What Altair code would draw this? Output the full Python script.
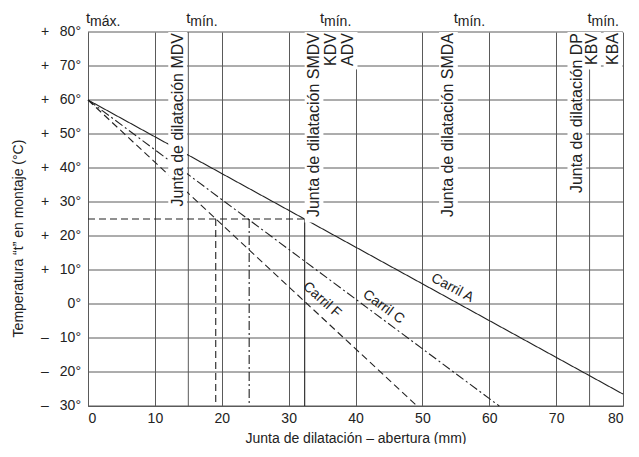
import altair as alt
import pandas as pd

FONT = "Liberation Sans"
INK = "#222222"
GRID = "#5a5a5a"

# ---- data ----
rail_names = ["Carril A", "Carril C", "Carril F"]
rail_x_start = [0, 0, 0]
rail_t_start = [60, 60, 60]
rail_x_end = [80, 61.5, 49.2]
rail_t_end = [-26.5, -30, -30]
rail_style = ["solid", "dashdot", "dashed"]

rail_label_x = [54.5, 44.2, 35.0]
rail_label_t = [4.7, -0.9, 1.2]
rail_label_angle = [28, 36, 42]

# reading example at t = +25 degC
ref_x = [0, 19.1, 24.1, 32.4]
ref_x2 = [32.4, 19.1, 24.1, 32.4]
ref_t = [25, 25, 25, 25]
ref_t2 = [25, -30, -30, -30]
ref_style = ["dashed", "dashed", "dashdot", "solid"]

# extra joint lines
joint_line_x = [15, 75]

# joint type labels (vertical)
joint_text = ["Junta de dilatación MDV", "Junta de dilatación SMDV", "KDV", "ADV",
              "Junta de dilatación SMDA", "Junta de dilatación DP", "KBV", "KBA"]
joint_x = [13.4, 33.8, 36.3, 38.9, 53.9, 73.1, 75.3, 78.5]
joint_bottom = [27, 24, 69, 69, 23, 31, 69, 69]

# top labels
top_x = [0, 15, 35, 55, 75]
top_sub = ["máx.", "mín.", "mín.", "mín.", "mín."]

x_ticks = [0, 10, 20, 30, 40, 50, 60, 70, 80]
t_ticks = [-30, -20, -10, 0, 10, 20, 30, 40, 50, 60, 70, 80]
t_signs = ["–", "–", "–", "", "+", "+", "+", "+", "+", "+", "+", "+"]
t_numbers = ["30°", "20°", "10°", "0°", "10°", "20°", "30°", "40°", "50°", "60°", "70°", "80°"]

# ---- tables ----
rails = pd.DataFrame({"name": rail_names, "x": rail_x_start, "t": rail_t_start,
                      "x2": rail_x_end, "t2": rail_t_end, "style": rail_style})
rail_labels = pd.DataFrame({"name": rail_names, "x": rail_label_x, "t": rail_label_t,
                            "angle": rail_label_angle})
refs = pd.DataFrame({"x": ref_x, "x2": ref_x2, "t": ref_t, "t2": ref_t2, "style": ref_style})
jlines = pd.DataFrame({"x": joint_line_x})
jtext = pd.DataFrame({"text": joint_text, "x": joint_x, "bottom": joint_bottom})
jtext["xl"] = jtext["x"] - 1.4
jtext["xr"] = jtext["x"] + 1.4
jtext["top"] = 80
tops = pd.DataFrame({"x": top_x, "sub": top_sub})
hgrid = pd.DataFrame({"t": t_ticks, "sign": t_signs, "num": t_numbers})

xs = alt.Scale(domain=[0, 80], nice=False, zero=False)
ys = alt.Scale(domain=[-30, 80], nice=False, zero=False)

dash_scale = alt.Scale(domain=["solid", "dashdot", "dashed"],
                       range=[[1, 0], [9, 3, 2, 3], [7, 4]])

base = alt.Chart(hgrid).mark_rule(color=GRID, strokeWidth=1).encode(
    x=alt.X("xa:Q", scale=xs,
            axis=alt.Axis(values=x_ticks, title="Junta de dilatación – abertura (mm)",
                          grid=True, ticks=False, domain=True, labelPadding=5,
                          labelOverlap=False, titlePadding=6)),
    x2=alt.datum(80),
    y=alt.Y("t:Q", scale=ys,
            axis=alt.Axis(values=t_ticks, title="Temperatura “t” en montaje (°C)",
                          grid=False, ticks=False, domain=True, labels=False,
                          titleX=-63, titleY=206, titleBaseline="bottom",
                          titleAngle=270, titleAlign="center")),
).transform_calculate(xa="0")

ynum = alt.Chart(hgrid).mark_text(
    align="right", baseline="middle", font=FONT, fontSize=14, color=INK).encode(
    x=alt.value(-7), y="t:Q", text="num:N")
ysign = alt.Chart(hgrid).mark_text(
    align="center", baseline="middle", font=FONT, fontSize=14, color=INK).encode(
    x=alt.value(-43), y="t:Q", text="sign:N")

joint_rules = alt.Chart(jlines).mark_rule(color=GRID, strokeWidth=1).encode(
    x="x:Q", y=alt.datum(80), y2=alt.datum(-30))

masks = alt.Chart(jtext).mark_rect(color="white").encode(
    x="xl:Q", x2="xr:Q", y="top:Q", y2="bottom:Q")

rail_rules = alt.Chart(rails).mark_rule(color=INK, strokeWidth=1.1).encode(
    x="x:Q", x2="x2:Q", y="t:Q", y2="t2:Q",
    strokeDash=alt.StrokeDash("style:N", scale=dash_scale, legend=None))

ref_rules = alt.Chart(refs).mark_rule(color=INK, strokeWidth=1.1).encode(
    x="x:Q", x2="x2:Q", y="t:Q", y2="t2:Q",
    strokeDash=alt.StrokeDash("style:N", scale=dash_scale, legend=None))

jlabels = alt.Chart(jtext).mark_text(
    angle=270, align="right", baseline="middle", font=FONT, fontSize=16,
    color=INK, dx=-1).encode(x="x:Q", y="top:Q", text="text:N")

rlabels = alt.Chart(rail_labels).mark_text(
    align="center", baseline="middle", font=FONT, fontSize=14, color=INK).encode(
    x="x:Q", y="t:Q", text="name:N", angle=alt.Angle("angle:Q", scale=None))

t_marks = alt.Chart(tops).mark_text(
    align="left", baseline="alphabetic", font=FONT, fontSize=15, color=INK, dx=-2).encode(
    x="x:Q", y=alt.datum(82.65), text=alt.value("t"))
sub_marks = alt.Chart(tops).mark_text(
    align="left", baseline="alphabetic", font=FONT, fontSize=14, color=INK, dx=2).encode(
    x="x:Q", y=alt.datum(81.8), text="sub:N")

chart = alt.layer(base, joint_rules, rail_rules, ref_rules, masks, jlabels, rlabels,
                  t_marks, sub_marks, ynum, ysign).properties(
    width=535, height=374,
    autosize=alt.AutoSizeParams(type="none"),
    padding={"left": 80, "top": 24, "right": 8, "bottom": 38},
).configure_view(stroke=None).configure_axis(
    gridColor=GRID, gridWidth=1, gridOpacity=1, domainColor=GRID, domainWidth=1,
    labelFont=FONT, labelFontSize=14, labelColor=INK, labelOverlap=False,
    titleFont=FONT, titleFontSize=14, titleColor=INK, titleFontWeight="normal",
)

chart.save("out.html", embed_options={"renderer": "svg", "actions": False})
